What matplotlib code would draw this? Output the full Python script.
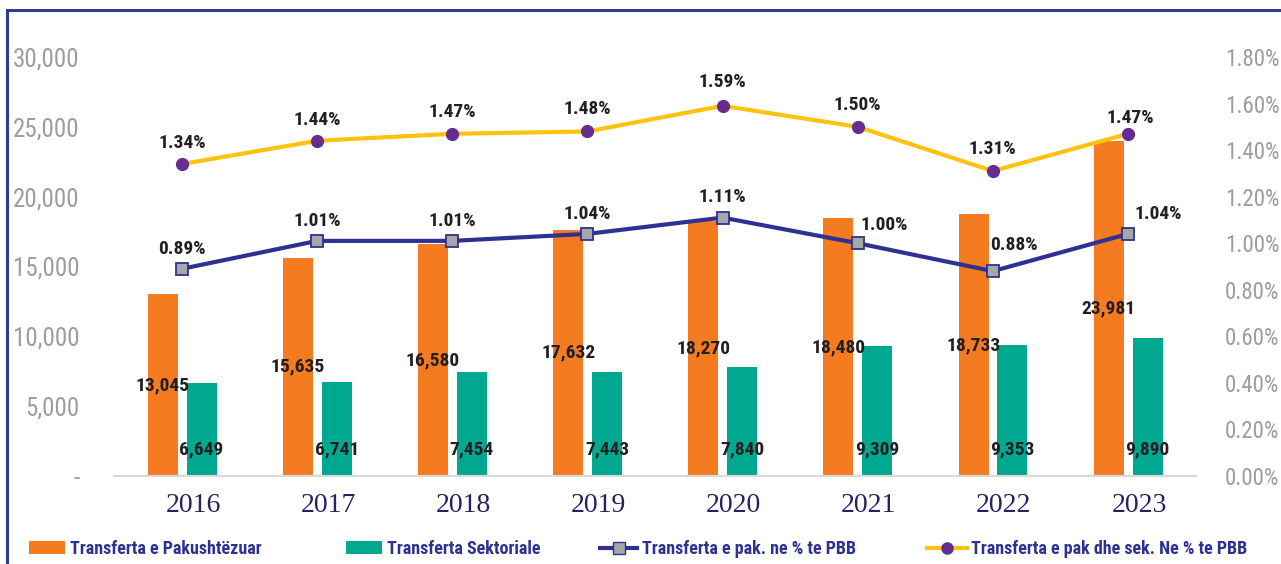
import numpy as np
import matplotlib
matplotlib.use('Agg')
import matplotlib.pyplot as plt
from matplotlib.lines import Line2D
from matplotlib.patches import Patch, Rectangle
from matplotlib.transforms import ScaledTranslation

plt.rcParams['font.family'] = ['Roboto Condensed', 'DejaVu Sans']
plt.rcParams['font.stretch'] = 'condensed'

years = ['2016', '2017', '2018', '2019', '2020', '2021', '2022', '2023']
unconditional = [13045, 15635, 16580, 17632, 18270, 18480, 18733, 23981]
sectoral = [6649, 6741, 7454, 7443, 7840, 9309, 9353, 9890]
uncond_pct = [0.89, 1.01, 1.01, 1.04, 1.11, 1.00, 0.88, 1.04]
total_pct = [1.34, 1.44, 1.47, 1.48, 1.59, 1.50, 1.31, 1.47]

ORANGE = '#f47b20'
TEAL = '#00a88f'
NAVY = '#2e3192'
YELLOW = '#ffc20e'
PURPLE = '#662d91'
GRAY = '#a6a6a6'
TICK_GRAY = '#9d9d9d'

fig = plt.figure(figsize=(12.81, 5.64), dpi=100)
ax = fig.add_axes([0.0893, 0.156, 0.8440, 0.743])
ax2 = ax.twinx()

x = np.arange(len(years))
w = 0.222
ax.bar(x - 0.143, unconditional, w, color=ORANGE, zorder=2)
ax.bar(x + 0.145, sectoral, w, color=TEAL, zorder=2)

ax.set_xlim(-0.5, 7.5)
ax.set_ylim(0, 30000)
ax.set_yticks(range(0, 30001, 5000))
ax.set_yticklabels(['-' if v == 0 else f'{v:,}' for v in range(0, 30001, 5000)])
ax.tick_params(axis='y', length=0, pad=25, labelsize=18, labelcolor=TICK_GRAY)
ax.set_xticks(x)
ax.set_xticklabels(years, family='Liberation Serif', fontsize=20, color='#262262')
ax.tick_params(axis='x', length=0, pad=12)
for lab in ax.get_xticklabels():
    lab.set_transform(lab.get_transform() + ScaledTranslation(11 / 100, 0, fig.dpi_scale_trans))

for s in ['top', 'left', 'right']:
    ax.spines[s].set_visible(False)
ax.spines['bottom'].set_color('#d9d9d9')
ax.spines['bottom'].set_linewidth(1.5)

# bar labels
for i, v in enumerate(unconditional):
    ax.annotate(f'{v:,}', (x[i] - 0.143, v / 2), ha='center', va='center',
                fontsize=14, fontweight='bold', color='#231f20', zorder=5)
for i, v in enumerate(sectoral):
    ax.annotate(f'{v:,}', (x[i] + 0.145, 0), xytext=(0, 19), textcoords='offset points',
                ha='center', va='center', fontsize=14, fontweight='bold', color='#231f20', zorder=5)

# lines on right axis
ax2.plot(x, uncond_pct, color=NAVY, lw=3, marker='s', ms=8.5, mfc=GRAY, mec=NAVY, mew=1.3, zorder=3)
ax2.plot(x, total_pct, color=YELLOW, lw=3, marker='o', ms=8.5, mfc=PURPLE, mec=PURPLE, zorder=3)
ax2.set_ylim(0, 1.8)
ax2.set_yticks(np.arange(0, 1.81, 0.2))
ax2.set_yticklabels([f'{v:.2f}%' for v in np.arange(0, 1.81, 0.2)])
ax2.tick_params(axis='y', length=0, pad=21, labelsize=16.5, labelcolor=TICK_GRAY)
for s in ax2.spines.values():
    s.set_visible(False)

blue_off = [(0, 14), (0, 14), (0, 14), (0, 14), (0, 15), (19, 13), (15, 19), (22, 14)]
yellow_off = [(0, 15), (0, 15), (0, 16), (0, 16), (0, 17), (0, 16), (0, 16), (1.5, 11.5)]
for i, v in enumerate(uncond_pct):
    ax2.annotate(f'{v:.2f}%', (x[i], v), xytext=blue_off[i], textcoords='offset points',
                 ha='center', va='center', fontsize=14, fontweight='bold', color='#231f20')
for i, v in enumerate(total_pct):
    ax2.annotate(f'{v:.2f}%', (x[i], v), xytext=yellow_off[i], textcoords='offset points',
                 ha='center', va='center', fontsize=14, fontweight='bold', color='#231f20')

# legend, one entry each so spacing follows the original
handles = [
    Patch(facecolor=ORANGE, label='Transferta e Pakushtëzuar'),
    Patch(facecolor=TEAL, label='Transferta Sektoriale'),
    Line2D([], [], color=NAVY, lw=3, marker='s', ms=8, mfc=GRAY, mec=NAVY, label='Transferta e pak. ne % te PBB'),
    Line2D([], [], color=YELLOW, lw=3, marker='o', ms=8, mfc=PURPLE, mec=PURPLE, label='Transferta e pak dhe sek. Ne % te PBB'),
]
leg_x = [29, 346, 600, 927]
leg_len = [2.0, 2.0, 2.05, 2.2]
for h, lx, hl in zip(handles, leg_x, leg_len):
    fig.legend(handles=[h], loc='center left', bbox_to_anchor=(lx / 1281, 1 - 549 / 564),
               frameon=False, borderpad=0, borderaxespad=0, handlelength=hl, handletextpad=0.25,
               prop={'weight': 'bold', 'size': 13}, labelcolor=NAVY)

# frame around the figure (cropped at right and bottom)
fig.patches.append(Rectangle((7 / 1281, -0.1), 1.2, 1 - 10 / 564 + 0.1, transform=fig.transFigure,
                             fill=False, edgecolor='#2f3c8f', lw=2.2))

fig.savefig('out.png', dpi=100)
